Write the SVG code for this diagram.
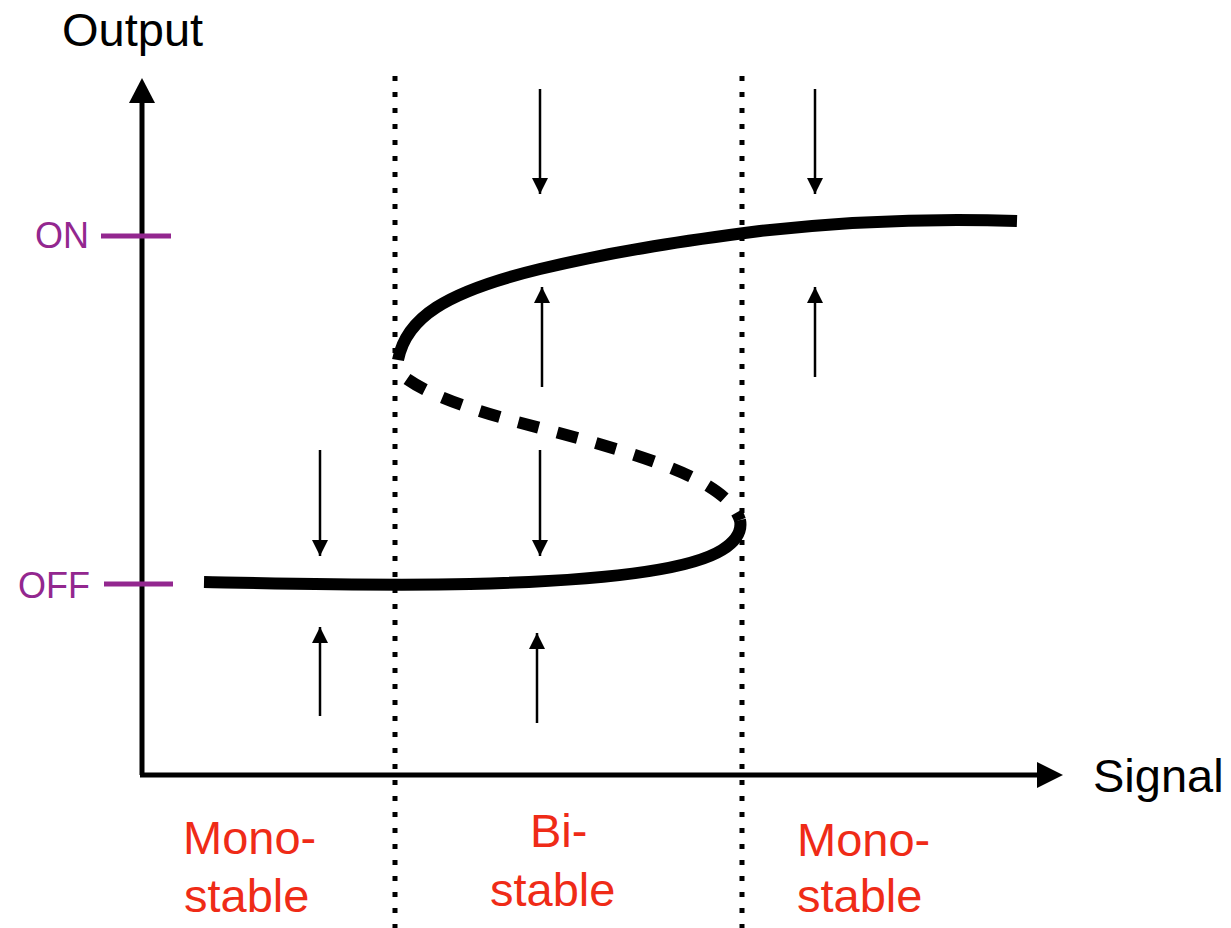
<svg xmlns="http://www.w3.org/2000/svg" width="1231" height="928" viewBox="0 0 1231 928">
<style>
.axis{stroke:#000;stroke-width:5;fill:none}
.tick{stroke:#93278F;stroke-width:5}
.tlab{font-family:"Liberation Sans",Arial,sans-serif;font-size:36px;fill:#93278F;text-anchor:end}
.alab{font-family:"Liberation Sans",Arial,sans-serif;font-size:47px;fill:#000}
.reg{font-family:"Liberation Sans",Arial,sans-serif;font-size:47px;fill:#EF2B17}
.dot{stroke:#000;stroke-width:5;stroke-dasharray:5 11;fill:none}
.curve{stroke:#000;stroke-width:12;fill:none}
.flow{stroke:#000;stroke-width:2.5;fill:none;marker-end:url(#ah)}
</style>
<defs>
<marker id="ah" markerUnits="userSpaceOnUse" viewBox="0 0 16 16" markerWidth="16" markerHeight="16" refX="16" refY="8" orient="auto">
<path d="M0,0 L16,8 L0,16 Z" fill="#000"/>
</marker>
</defs>
<g id="axes">
<line class="axis" x1="142" y1="775" x2="142" y2="100"/>
<path d="M129,103 L142,78 L155,103 Z" fill="#000"/>
<line class="axis" x1="140" y1="775" x2="1040" y2="775"/>
<path d="M1037,762 L1063,775 L1037,788 Z" fill="#000"/>
<text class="alab" x="62" y="46">Output</text>
<text class="alab" x="1093" y="792" font-size="45">Signal</text>
</g>
<g id="ticks">
<line class="tick" x1="101" y1="236" x2="171" y2="236"/>
<text class="tlab" x="89" y="248">ON</text>
<line class="tick" x1="104" y1="584" x2="173" y2="584"/>
<text class="tlab" x="90" y="598">OFF</text>
</g>
<g id="boundaries">
<line class="dot" x1="395" y1="76" x2="395" y2="928"/>
<line class="dot" x1="742" y1="76" x2="742" y2="928"/>
</g>
<g id="curves">
<path id="upper" class="curve" d="M398,360 C406,318 445,292 540,269 C620,250 690,240 760,231 C850,221 930,218 1017,221"/>
<path id="middle" class="curve" stroke-dasharray="21 19" d="M407,379 C430,395 470,410 540,428 C610,446 670,464 705,484 C725,496 735,506 740,520"/>
<path id="lower" class="curve" d="M204,582 C300,584 380,586 470,584 C600,581 690,570 722,550 C738,540 742,530 740,520"/>
</g>
<g id="connectors">
<line class="flow" x1="540" y1="89" x2="540" y2="194"/>
<line class="flow" x1="815" y1="89" x2="815" y2="194"/>
<line class="flow" x1="542" y1="387" x2="542" y2="287"/>
<line class="flow" x1="815" y1="377" x2="815" y2="287"/>
<line class="flow" x1="320" y1="450" x2="320" y2="556"/>
<line class="flow" x1="540" y1="450" x2="540" y2="556"/>
<line class="flow" x1="320" y1="716" x2="320" y2="627"/>
<line class="flow" x1="537" y1="723" x2="537" y2="633"/>
</g>
<g id="regions">
<text class="reg" x="183" y="854">Mono-</text>
<text class="reg" x="184" y="912">stable</text>
<text class="reg" x="530" y="847">Bi-</text>
<text class="reg" x="490" y="906">stable</text>
<text class="reg" x="797" y="856">Mono-</text>
<text class="reg" x="797" y="912">stable</text>
</g>
</svg>
